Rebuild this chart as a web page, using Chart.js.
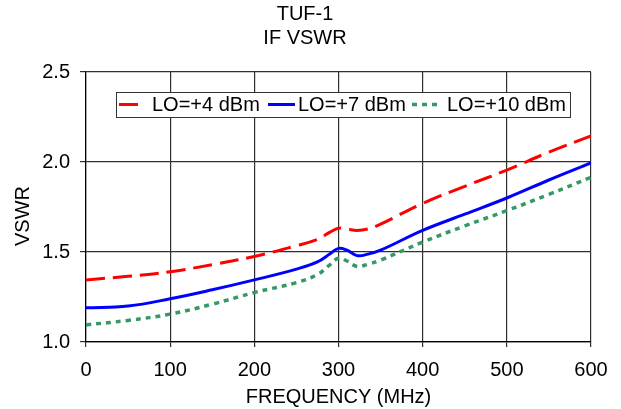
<!DOCTYPE html>
<html>
<head>
<meta charset="utf-8">
<script src="https://cdn.jsdelivr.net/npm/chart.js@4.4.1/dist/chart.umd.min.js"></script>
<style>
  html, body { margin: 0; padding: 0; background: #fff; }
  #wrap { position: relative; width: 621px; height: 409px; }
</style>
</head>
<body>
<div id="wrap"><canvas id="vswrChart"></canvas></div>
<script>
// Valores (frecuencia en MHz, VSWR)
const frecuencias = [0, 50, 100, 150, 200, 250, 275, 290, 300, 310, 322, 335, 350, 400, 450, 500, 550, 600];
const vswrLO4  = [1.345, 1.365, 1.39, 1.43, 1.475, 1.535, 1.57, 1.61, 1.632, 1.628, 1.62, 1.628, 1.655, 1.77, 1.865, 1.955, 2.055, 2.145];
const vswrLO7  = [1.19, 1.20, 1.24, 1.29, 1.345, 1.405, 1.445, 1.49, 1.52, 1.51, 1.48, 1.488, 1.51, 1.62, 1.71, 1.80, 1.90, 1.995];
const vswrLO10 = [1.095, 1.12, 1.155, 1.21, 1.275, 1.33, 1.375, 1.43, 1.465, 1.45, 1.42, 1.432, 1.455, 1.555, 1.645, 1.73, 1.82, 1.915];
const nombresSerie = ['LO=+4 dBm', 'LO=+7 dBm', 'LO=+10 dBm'];
const ticksX = [0, 100, 200, 300, 400, 500, 600];
const ticksY = [1.0, 1.5, 2.0, 2.5];
const titulo = ['TUF-1', 'IF VSWR'];

const FUENTE = '"Liberation Sans", Arial, sans-serif';
Chart.defaults.font.family = FUENTE;
Chart.defaults.color = '#000';

function puntos(valores) {
    return frecuencias.map(function(f, i) { return { x: f, y: valores[i] }; });
}

// Leyenda dentro del area del grafico y titulo del eje Y
const extrasPlugin = {
    id: 'extras',
    afterDraw(chart) {
        const ctx = chart.ctx;
        ctx.save();
        ctx.font = '20px ' + FUENTE;
        ctx.fillStyle = '#000';
        ctx.translate(23, 216);
        ctx.rotate(-Math.PI / 2);
        ctx.textAlign = 'center';
        ctx.textBaseline = 'middle';
        ctx.fillText('VSWR', 0, 0);
        ctx.restore();

        ctx.save();
        ctx.fillStyle = '#fff';
        ctx.fillRect(116.5, 92.5, 454, 25);
        ctx.strokeStyle = '#333';
        ctx.lineWidth = 1;
        ctx.strokeRect(116.5, 92.5, 454, 25);
        const muestras = [119, 268, 412];
        const textos = [152, 298, 447];
        chart.data.datasets.forEach(function(ds, i) {
            ctx.beginPath();
            ctx.strokeStyle = ds.borderColor;
            ctx.lineWidth = ds.borderWidth;
            ctx.setLineDash(ds.borderDash || []);
            ctx.moveTo(muestras[i], 104.5);
            ctx.lineTo(muestras[i] + 27, 104.5);
            ctx.stroke();
            ctx.setLineDash([]);
            ctx.fillStyle = '#000';
            ctx.font = '20px ' + FUENTE;
            ctx.textAlign = 'left';
            ctx.textBaseline = 'middle';
            ctx.fillText(ds.label, textos[i], 105);
        });
        ctx.restore();
    }
};

new Chart(document.getElementById('vswrChart'), {
    type: 'line',
    data: {
        datasets: [{
            label: nombresSerie[0],
            data: puntos(vswrLO4),
            borderColor: '#ff0000',
            borderWidth: 3,
            borderDash: [19, 8]
        }, {
            label: nombresSerie[1],
            data: puntos(vswrLO7),
            borderColor: '#0000ff',
            borderWidth: 3
        }, {
            label: nombresSerie[2],
            data: puntos(vswrLO10),
            borderColor: '#339966',
            borderWidth: 3.5,
            borderDash: [5, 5]
        }]
    },
    options: {
        responsive: true,
        maintainAspectRatio: false,
        animation: false,
        elements: {
            point: { radius: 0 },
            line: { tension: 0.4, fill: false }
        },
        layout: { padding: { left: 19, right: 30, top: 0, bottom: 0 } },
        plugins: {
            legend: { display: false },
            tooltip: { enabled: false },
            title: {
                display: true,
                text: titulo,
                color: '#000',
                font: { size: 20, weight: 'normal', lineHeight: 1.225 },
                padding: { top: 2, bottom: 21 }
            }
        },
        scales: {
            x: {
                type: 'linear',
                min: ticksX[0],
                max: ticksX[ticksX.length - 1],
                afterBuildTicks: function(scale) {
                    scale.ticks = ticksX.map(function(v) { return { value: v }; });
                },
                afterFit: function(scale) { scale.height = 67; },
                grid: { color: '#303030', lineWidth: 1.2, tickLength: 5 },
                border: { color: '#000', width: 1.2 },
                ticks: { font: { size: 20 }, padding: 11, maxRotation: 0 },
                title: {
                    display: true,
                    text: 'FREQUENCY (MHz)',
                    font: { size: 20 },
                    padding: { top: 0, bottom: 0 }
                }
            },
            y: {
                min: ticksY[0],
                max: ticksY[ticksY.length - 1],
                afterBuildTicks: function(scale) {
                    scale.ticks = ticksY.map(function(v) { return { value: v }; });
                },
                afterFit: function(scale) { scale.width = 67; },
                grid: { color: '#303030', lineWidth: 1.2, tickLength: 6 },
                border: { color: '#000', width: 1.2 },
                ticks: {
                    font: { size: 20 },
                    padding: 10,
                    callback: function(v) { return Number(v).toFixed(1); }
                }
            }
        }
    },
    plugins: [extrasPlugin]
});
</script>
</body>
</html>
